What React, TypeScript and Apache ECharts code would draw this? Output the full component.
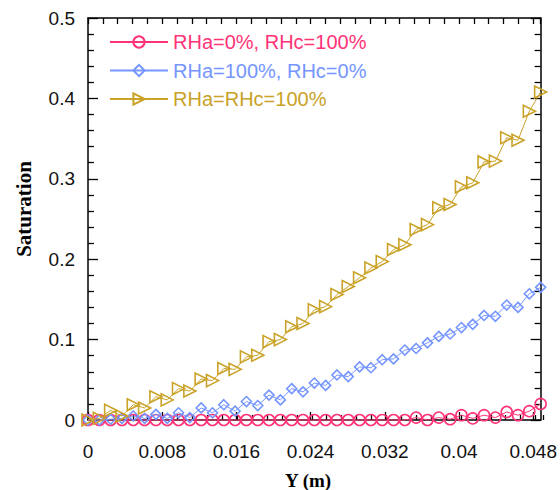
import React, { useEffect, useRef } from "react";
import * as echarts from "echarts";

// Position along Y (m)
const yPositions = [
  0, 0.00122, 0.00244, 0.00366, 0.00488, 0.0061, 0.00732, 0.00854, 0.00976, 0.01098,
  0.0122, 0.01342, 0.01464, 0.01586, 0.01708, 0.0183, 0.01952, 0.02074, 0.02196, 0.02318,
  0.0244, 0.02562, 0.02684, 0.02806, 0.02928, 0.0305, 0.03172, 0.03294, 0.03416, 0.03538,
  0.0366, 0.03782, 0.03904, 0.04026, 0.04148, 0.0427, 0.04392, 0.04514, 0.04636, 0.04758,
  0.0488,
];

// RHa=0%, RHc=100%
const satRHa0 = [
  0, 0, 0, 0, 0, 0, 0, 0, 0, 0,
  0, 0, 0, 0, 0, 0, 0, 0, 0, 0,
  0, 0, 0, 0, 0, 0, 0, 0, 0, 0.003,
  0, 0.003, 0.001, 0.006, 0.002, 0.006, 0.003, 0.01, 0.006, 0.011,
  0.02,
];

// RHa=100%, RHc=0%
const satRHc0 = [
  0, 0, 0.001, 0.002, 0.005, 0.002, 0.007, 0.002, 0.009, 0.003,
  0.015, 0.009, 0.019, 0.011, 0.023, 0.018, 0.031, 0.025, 0.039, 0.035,
  0.046, 0.043, 0.056, 0.054, 0.066, 0.065, 0.075, 0.076, 0.087, 0.089,
  0.096, 0.104, 0.107, 0.115, 0.119, 0.13, 0.129, 0.143, 0.14, 0.157,
  0.165,
];

// RHa=RHc=100%
const satBoth = [
  0, 0.002, 0.012, 0.005, 0.019, 0.015, 0.029, 0.025, 0.039, 0.036,
  0.051, 0.049, 0.064, 0.063, 0.0785, 0.0805, 0.0975, 0.1, 0.116, 0.12,
  0.137, 0.141, 0.156, 0.166, 0.177, 0.189, 0.197, 0.212, 0.218, 0.237,
  0.243, 0.264, 0.268, 0.29, 0.295, 0.321, 0.322, 0.351, 0.348, 0.384,
  0.408,
];

const seriesNames = ["RHa=0%, RHc=100%", "RHa=100%, RHc=0%", "RHa=RHc=100%"];
const seriesColors = ["#FF3377", "#7595FF", "#C9A227"];
const seriesSymbols = ["circle", "diamond", "triangle"];
const symbolSizes = [11, 10, 12];
const symbolRotates = [0, 0, -90];

const X_MIN = 0;
const X_MAX = 0.0488;
const X_STEP = 0.008;
const X_MINOR = 0.0016;
const Y_MIN = 0;
const Y_MAX = 0.5;
const Y_STEP = 0.1;

const LABEL_FONT = "'Liberation Sans', Arial, sans-serif";
const TITLE_FONT = "'Liberation Serif', 'Times New Roman', serif";

export default function App() {
  const ref = useRef<HTMLDivElement>(null);

  useEffect(() => {
    if (!ref.current) return;
    const chart = echarts.init(ref.current, undefined, { renderer: "svg" });
    const gridBox = { left: 88, top: 18, right: 17, bottom: 70 };
    const axisLine = { show: true, onZero: false, lineStyle: { color: "#000", width: 1.5 } };
    const tickLine = { color: "#000", width: 1.3 };
    const allSeries = [satRHa0, satRHc0, satBoth];

    chart.setOption({
      animation: false,
      backgroundColor: "#fff",
      grid: [
        { ...gridBox, containLabel: false },
        { ...gridBox, containLabel: false },
      ],
      legend: {
        orient: "vertical",
        left: 109,
        top: 32,
        padding: 0,
        itemWidth: 58,
        itemHeight: 14,
        itemGap: 8.5,
        textStyle: { fontSize: 20, fontFamily: LABEL_FONT },
        data: seriesNames.map((n, i) => ({ name: n, textStyle: { color: seriesColors[i] } })),
      },
      xAxis: [
        {
          type: "value",
          gridIndex: 0,
          position: "bottom",
          min: X_MIN,
          max: X_MAX,
          interval: X_STEP,
          axisLine,
          axisTick: { show: true, inside: true, length: 8, lineStyle: tickLine },
          axisLabel: {
            show: true,
            showMaxLabel: false,
            margin: 22,
            color: "#111",
            fontSize: 19,
            fontFamily: LABEL_FONT,
          },
          splitLine: { show: false },
        },
        {
          type: "value",
          gridIndex: 0,
          position: "top",
          min: X_MIN,
          max: X_MAX,
          interval: X_MINOR,
          axisLine,
          axisTick: { show: true, inside: true, length: 6, lineStyle: tickLine },
          axisLabel: { show: false },
          splitLine: { show: false },
        },
        {
          type: "value",
          gridIndex: 1,
          position: "bottom",
          min: X_MIN,
          max: X_MAX,
          interval: X_MINOR,
          axisLine: { show: false },
          axisTick: { show: true, inside: true, length: 5, lineStyle: tickLine },
          axisLabel: { show: false },
          splitLine: { show: false },
        },
      ],
      yAxis: [
        {
          type: "value",
          gridIndex: 0,
          position: "left",
          min: Y_MIN,
          max: Y_MAX,
          interval: Y_STEP,
          axisLine,
          axisTick: { show: true, inside: true, length: 10, lineStyle: tickLine },
          minorTick: { show: true, splitNumber: 5, length: 6, lineStyle: tickLine },
          axisLabel: { margin: 13, color: "#111", fontSize: 19, fontFamily: LABEL_FONT },
          splitLine: { show: false },
          minorSplitLine: { show: false },
        },
        {
          type: "value",
          gridIndex: 0,
          position: "right",
          min: Y_MIN,
          max: Y_MAX,
          interval: Y_STEP,
          axisLine,
          axisTick: { show: true, inside: true, length: 10, lineStyle: tickLine },
          minorTick: { show: true, splitNumber: 5, length: 6, lineStyle: tickLine },
          axisLabel: { show: false },
          splitLine: { show: false },
          minorSplitLine: { show: false },
        },
        {
          type: "value",
          gridIndex: 1,
          min: Y_MIN,
          max: Y_MAX,
          show: false,
          splitLine: { show: false },
        },
      ],
      graphic: [
        {
          type: "text",
          x: 308,
          y: 480,
          style: {
            text: "Y (m)",
            fontFamily: TITLE_FONT,
            fontWeight: "bold",
            fontSize: 19,
            fill: "#000",
            align: "center",
            verticalAlign: "middle",
          },
        },
        {
          type: "text",
          x: 24,
          y: 209,
          rotation: Math.PI / 2,
          style: {
            text: "Saturation",
            fontFamily: TITLE_FONT,
            fontWeight: "bold",
            fontSize: 21,
            fill: "#000",
            align: "center",
            verticalAlign: "middle",
          },
        },
      ],
      series: allSeries.map((vals, i) => ({
        type: "line",
        name: seriesNames[i],
        xAxisIndex: 0,
        yAxisIndex: 0,
        data: yPositions.map((x, j) => [x, vals[j]]),
        symbol: seriesSymbols[i],
        symbolSize: symbolSizes[i],
        symbolRotate: symbolRotates[i],
        showAllSymbol: true,
        clip: false,
        z: 3 + i,
        lineStyle: { color: seriesColors[i], width: 1 },
        itemStyle: {
          color: "rgba(255,255,255,0)",
          borderColor: seriesColors[i],
          borderWidth: 1.6,
        },
        emphasis: { disabled: true },
      })),
    });

    return () => {
      chart.dispose();
    };
  }, []);

  return (
    <div
      ref={ref}
      style={{ position: "fixed", left: 0, top: 0, width: 560, height: 490, background: "#fff" }}
    />
  );
}
